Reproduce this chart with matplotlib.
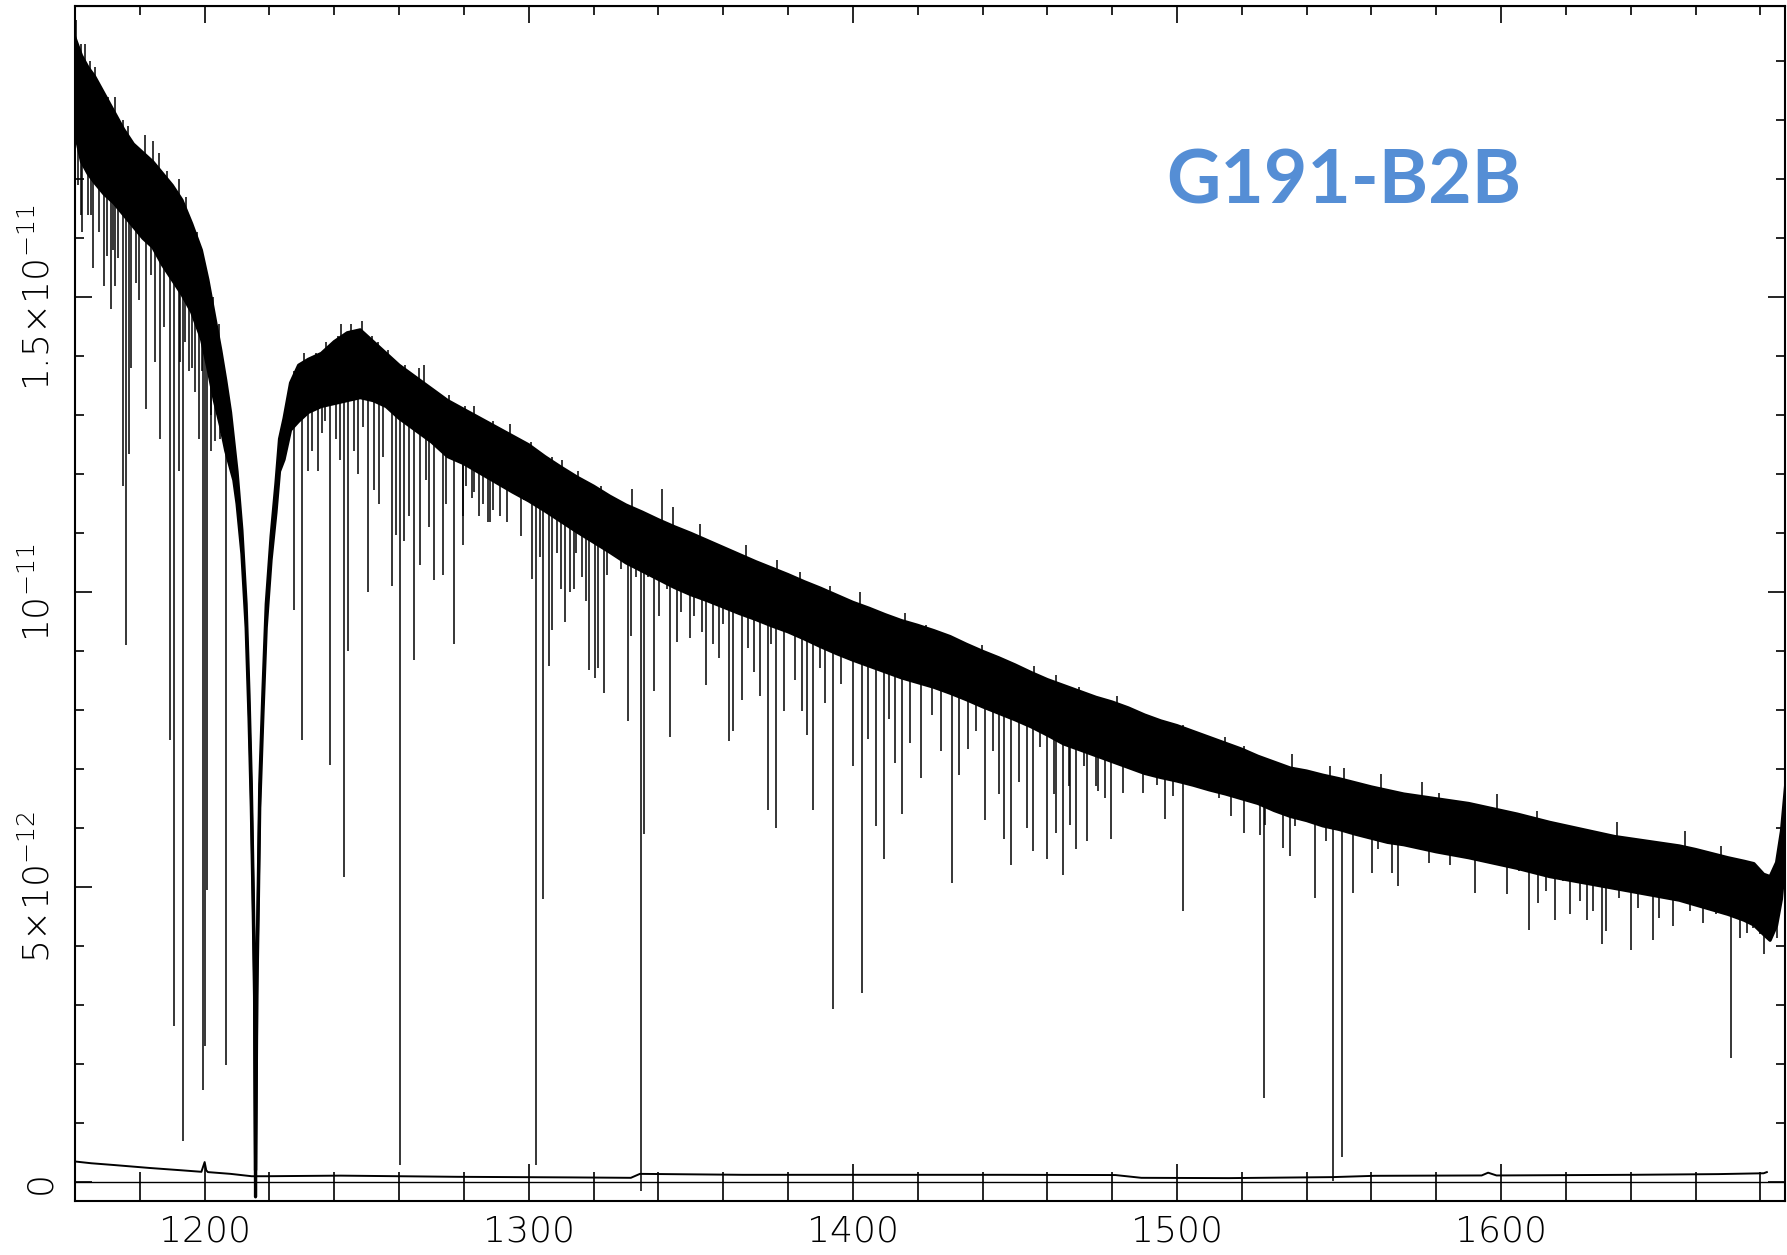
import numpy as np
import matplotlib
matplotlib.use('Agg')
import matplotlib.pyplot as plt
from matplotlib import font_manager as fm
from matplotlib.ticker import MultipleLocator

# flux in units of 1e-12, wavelength in Angstrom
# noisy continuum band: upper and lower edge
band_wave = [1160, 1162, 1164, 1166, 1169, 1172, 1175, 1178, 1181, 1184, 1187, 1190,
             1193, 1196, 1199, 1201, 1203, 1205, 1206.5, 1208, 1209, 1210, 1211.5,
             1212.8, 1213.7, 1214.4, 1215.0, 1215.4, 1215.7, 1216.1, 1216.6, 1217.0,
             1218.0, 1219.0, 1220.5, 1222.0, 1223.1, 1224.5, 1226.5, 1229, 1232, 1236,
             1240, 1244, 1248, 1252, 1256, 1260, 1265, 1270, 1275, 1280, 1285, 1290,
             1295, 1300, 1305, 1310, 1315, 1320, 1325, 1330, 1335, 1340, 1345, 1350,
             1355, 1360, 1365, 1370, 1375, 1380, 1385, 1390, 1395, 1400, 1405, 1410,
             1415, 1420, 1425, 1430, 1435, 1440, 1445, 1450, 1455, 1460, 1465, 1470,
             1475, 1480, 1485, 1490, 1495, 1500, 1505, 1510, 1515, 1520, 1525, 1530,
             1535, 1540, 1545, 1550, 1555, 1560, 1565, 1570, 1575, 1580, 1585, 1590,
             1595, 1600, 1605, 1610, 1615, 1620, 1625, 1630, 1635, 1640, 1645, 1650,
             1655, 1660, 1665, 1670, 1675, 1678, 1681, 1683, 1685, 1686.5, 1688]
band_hi = [19.4, 19.1, 18.9, 18.75, 18.45, 18.15, 17.85, 17.6, 17.45, 17.3, 17.1, 16.9,
           16.65, 16.25, 15.8, 15.3, 14.7, 14.1, 13.6, 13.05, 12.55, 12.05, 11.05,
           9.8, 8.25, 6.75, 4.95, 3.55, 0.2, 3.55, 5.25, 6.75,
           8.35, 9.8, 10.95, 11.85, 12.6, 12.95, 13.55, 13.85, 13.95, 14.05,
           14.25, 14.4, 14.45, 14.25, 14.05, 13.85, 13.65, 13.45, 13.25, 13.1, 12.95, 12.8,
           12.65, 12.5, 12.3, 12.12, 11.95, 11.8, 11.63, 11.48, 11.36, 11.23, 11.11, 11.0,
           10.88, 10.76, 10.64, 10.52, 10.41, 10.3, 10.18, 10.07, 9.95, 9.83, 9.73, 9.62,
           9.52, 9.44, 9.35, 9.25, 9.12, 9.0, 8.89, 8.77, 8.64, 8.52, 8.42, 8.32,
           8.22, 8.14, 8.04, 7.92, 7.82, 7.74, 7.64, 7.54, 7.44, 7.34, 7.22, 7.12,
           7.02, 6.97, 6.9, 6.84, 6.77, 6.7, 6.64, 6.58, 6.54, 6.5, 6.46, 6.42,
           6.36, 6.3, 6.24, 6.17, 6.1, 6.04, 5.98, 5.92, 5.86, 5.82, 5.78, 5.74,
           5.7, 5.64, 5.57, 5.5, 5.44, 5.4, 5.22, 5.18, 5.42, 5.95, 6.85]
band_lo = [17.8, 17.3, 17.1, 16.95, 16.75, 16.6, 16.4, 16.2, 16.0, 15.85, 15.55, 15.3,
           15.05, 14.75, 14.3, 13.8, 13.25, 12.8, 12.4, 12.1, 11.9, 11.5, 10.65,
           9.4, 7.85, 6.35, 4.55, 3.15, -0.25, 3.15, 4.85, 6.35,
           7.95, 9.4, 10.55, 11.35, 12.05, 12.25, 12.75, 12.9, 13.05, 13.15,
           13.2, 13.25, 13.3, 13.25, 13.15, 12.95, 12.75, 12.55, 12.3, 12.18, 12.02, 11.86,
           11.7, 11.55, 11.38, 11.2, 11.02, 10.85, 10.68, 10.5, 10.36, 10.22, 10.08, 9.96,
           9.86, 9.75, 9.64, 9.54, 9.43, 9.33, 9.21, 9.08, 8.96, 8.85, 8.75, 8.65,
           8.55, 8.47, 8.39, 8.29, 8.18, 8.06, 7.95, 7.84, 7.72, 7.58, 7.43, 7.33,
           7.23, 7.13, 7.03, 6.93, 6.86, 6.8, 6.73, 6.65, 6.58, 6.5, 6.42, 6.3,
           6.2, 6.13, 6.04, 5.98, 5.9, 5.83, 5.76, 5.72, 5.66, 5.6, 5.55, 5.5,
           5.44, 5.38, 5.32, 5.25, 5.18, 5.13, 5.08, 5.03, 4.98, 4.93, 4.88, 4.83,
           4.78, 4.7, 4.62, 4.54, 4.44, 4.36, 4.2, 4.1, 4.35, 4.8, 5.7]

# strong absorption lines: wavelength and the flux reached at line centre
line_wave = [1161.0, 1161.8, 1164.0, 1165.4, 1168.9, 1171.0, 1172.4, 1174.8, 1175.7, 1176.6,
             1177.2, 1182.0, 1186.3, 1189.2, 1190.4, 1192.1, 1193.3, 1196.2, 1198.3, 1199.6,
             1200.2, 1200.7, 1202.0, 1204.7, 1206.6, 1227.6, 1229.9, 1231.9, 1234.9, 1236.2,
             1238.8, 1241.8, 1242.9, 1244.3, 1247.3, 1250.5, 1252.1, 1253.8, 1257.7, 1260.4,
             1261.5, 1264.6, 1266.5, 1269.2, 1270.8, 1273.4, 1277.0, 1279.8, 1284.5, 1287.5,
             1291.1, 1293.4, 1297.5, 1301.1, 1302.2, 1303.4, 1304.4, 1306.2, 1307.2, 1311.1,
             1312.6, 1313.9, 1317.7, 1318.6, 1320.5, 1323.2, 1324.1, 1330.5, 1331.5, 1334.5,
             1335.7, 1338.7, 1343.5, 1345.8, 1349.7, 1354.8, 1358.6, 1361.8, 1363.1, 1365.7,
             1371.4, 1373.7, 1376.4, 1378.8, 1385.7, 1387.8, 1393.8, 1400.1, 1402.8, 1407.0,
             1409.6, 1415.2, 1420.9, 1427.1, 1430.6, 1435.4, 1440.9, 1446.6, 1448.9, 1453.7,
             1455.7, 1459.9, 1462.7, 1464.9, 1468.9, 1472.1, 1475.6, 1479.5, 1483.2, 1489.5,
             1496.3, 1498.9, 1501.8, 1506.1, 1512.9, 1516.7, 1520.6, 1524.0, 1525.7, 1526.7,
             1532.6, 1534.8, 1536.5, 1542.6, 1546.0, 1548.2, 1550.8, 1554.2, 1560.2, 1566.2,
             1568.3, 1577.8, 1584.1, 1592.0, 1601.7, 1608.7, 1611.4, 1616.5, 1621.3, 1626.4,
             1631.0, 1632.4, 1640.0, 1646.9, 1653.0, 1662.4, 1670.8, 1673.6, 1675.9, 1681.1,
             1685.0]
line_min = [16.9, 16.4, 16.4, 15.5, 15.2, 14.8, 15.2, 11.8, 9.1, 12.35,
            13.8, 13.1, 12.6, 7.5, 2.65, 12.05, 0.7, 13.8, 12.6, 1.57,
            2.3, 4.96, 12.4, 12.6, 1.98, 9.7, 7.5, 12.05, 12.05, 12.7,
            7.07, 12.25, 5.17, 9.0, 12.0, 10.0, 11.74, 11.5, 10.1, 0.29,
            10.87, 8.86, 10.46, 11.1, 10.2, 10.3, 9.12, 10.8, 11.3, 11.2,
            11.3, 11.2, 10.96, 10.23, 0.29, 10.6, 4.8, 8.75, 9.36, 9.49,
            10.0, 10.06, 9.86, 8.69, 8.55, 8.29, 10.3, 7.82, 9.26, -0.15,
            5.9, 8.32, 7.55, 9.16, 9.22, 8.42, 8.89, 7.48, 7.65, 8.18,
            8.25, 6.31, 6.01, 7.98, 7.58, 6.31, 2.94, 7.05, 3.2, 6.04,
            5.47, 6.24, 6.85, 7.31, 5.07, 7.35, 6.14, 5.81, 5.37, 6.01,
            5.61, 5.47, 5.92, 5.2, 5.64, 5.78, 6.63, 5.81, 6.6, 6.6,
            6.15, 6.54, 4.6, 6.74, 6.51, 6.2, 5.92, 6.43, 5.89, 1.43,
            5.67, 5.53, 6.03, 4.82, 5.78, 0.02, 0.43, 4.9, 5.24, 5.24,
            5.02, 5.41, 5.38, 4.9, 4.88, 4.28, 4.73, 4.45, 4.54, 4.45,
            4.03, 4.25, 3.94, 4.11, 4.34, 4.4, 2.1, 4.14, 4.23, 3.86,
            4.14]

# weak lines hanging just under the band
weak_wave = [1162.2, 1164.9, 1167.3, 1169.9, 1171.6, 1173.4, 1178.7, 1179.9, 1183.4, 1184.6,
             1187.5, 1192.3, 1194.0, 1195.2, 1197.0, 1199.3, 1202.0, 1203.2, 1205.2,
             1233.1, 1237.0, 1240.6, 1246.2, 1248.8, 1255.0, 1259.1, 1263.2, 1268.3, 1274.5,
             1279.7, 1283.2, 1285.8, 1287.9, 1280.6, 1282.5, 1288.9, 1298.5, 1308.8, 1310.0,
             1314.5, 1316.4, 1321.5, 1326.0, 1328.6, 1333.0, 1336.9, 1340.1, 1342.6, 1347.1,
             1351.0, 1353.5, 1356.7, 1359.9, 1367.6, 1369.5, 1374.6, 1382.3, 1384.2, 1390.0,
             1391.3, 1396.4, 1404.7, 1411.1, 1413.0, 1417.5, 1424.5, 1432.8, 1437.9, 1443.1,
             1445.0, 1451.4, 1457.8, 1462.2, 1466.7, 1471.2, 1475.0, 1467.0, 1477.9, 1485.8,
             1493.8, 1508.3, 1527.1, 1538.7, 1553.2, 1556.1, 1561.9, 1572.0, 1576.4, 1580.7,
             1588.0, 1596.0, 1605.4, 1614.0, 1619.1, 1624.2, 1628.5, 1636.5, 1642.3, 1648.8,
             1658.2, 1666.2, 1677.8, 1680.0]
weak_min = [16.1, 16.4, 16.1, 15.7, 15.8, 15.66, 15.24, 14.96, 15.38, 13.9,
            14.5, 13.9, 14.25, 13.76, 13.4, 13.76, 13.0, 12.56, 12.7,
            12.4, 12.9, 12.6, 12.4, 12.8, 12.3, 10.97, 11.3, 11.9, 11.5,
            11.3, 11.7, 11.5, 11.2, 11.8, 11.6, 11.4, 11.57, 10.66, 10.06,
            10.66, 10.26, 8.72, 10.93, 10.4, 10.26, 10.26, 9.59, 10.06, 9.66,
            9.59, 9.32, 9.12, 9.46, 9.06, 8.65, 9.12, 8.52, 7.98, 8.72,
            8.12, 8.45, 7.52, 7.85, 7.11, 7.45, 7.92, 6.91, 7.65, 7.31,
            6.58, 6.78, 7.38, 6.58, 6.71, 7.05, 6.71, 6.06, 6.51, 7.08,
            6.74, 6.97, 6.06, 6.23, 6.0, 6.12, 5.64, 5.81, 5.84, 5.61,
            5.84, 5.67, 5.27, 4.94, 5.1, 4.76, 4.59, 4.82, 4.65, 4.48,
            4.59, 4.54, 4.31, 4.2]

# noise spikes rising above the band
spike_wave = [1160.4, 1162.0, 1163.1, 1164.7, 1166.1, 1168.4, 1170.2, 1172.4, 1174.8, 1176.3,
              1181.6, 1184.0, 1185.9, 1188.4, 1192.0, 1194.3, 1197.6, 1200.8, 1202.6, 1204.4,
              1227.7, 1230.8, 1234.5, 1237.3, 1241.2, 1242.2, 1245.1, 1248.7, 1251.6, 1253.6,
              1256.6, 1261.9, 1266.0, 1267.8, 1275.4, 1280.2, 1283.1, 1289.0, 1294.3, 1300.8,
              1307.3, 1310.2, 1315.1, 1322.2, 1331.8, 1341.0, 1344.6, 1352.9, 1367.0, 1376.5,
              1383.6, 1392.9, 1402.1, 1416.2, 1422.6, 1430.3, 1439.9, 1455.8, 1462.7, 1469.9,
              1481.5, 1501.8, 1514.8, 1520.6, 1535.5, 1547.1, 1551.5, 1563.1, 1575.7, 1580.7,
              1598.8, 1611.2, 1635.8, 1656.8, 1667.7]
spike_top = [19.7, 19.3, 19.3, 19.0, 18.9, 18.5, 18.4, 18.4, 18.0, 17.9,
             17.75, 17.65, 17.45, 17.15, 17.0, 16.7, 16.1, 15.4, 15.0, 14.55,
             13.75, 14.05, 14.05, 14.25, 14.35, 14.55, 14.55, 14.6, 14.35, 14.25,
             14.1, 13.85, 13.8, 13.85, 13.35, 13.15, 13.15, 12.9, 12.85, 12.55,
             12.3, 12.25, 12.05, 11.8, 11.75, 11.75, 11.45, 11.15, 10.8, 10.55,
             10.35, 10.1, 10.0, 9.65, 9.45, 9.15, 9.1, 8.75, 8.6, 8.4,
             8.25, 7.75, 7.55, 7.4, 7.25, 7.05, 7.02, 6.92, 6.78, 6.6,
             6.58, 6.3, 6.1, 5.95, 5.7]

# error spectrum
err_wave = [1160, 1165, 1172, 1183, 1193, 1199, 1200, 1200.5, 1201, 1208, 1214.5, 1219,
            1242, 1278, 1313, 1331.5, 1334.3, 1366, 1410, 1446, 1481, 1489, 1516, 1548,
            1561, 1594, 1596, 1598.6, 1640, 1667, 1681, 1682]
err_flux = [0.35, 0.32, 0.29, 0.24, 0.2, 0.175, 0.34, 0.2, 0.17, 0.14, 0.1, 0.1,
            0.11, 0.09, 0.08, 0.073, 0.14, 0.124, 0.124, 0.124, 0.12, 0.073, 0.068, 0.085,
            0.107, 0.113, 0.16, 0.113, 0.124, 0.136, 0.15, 0.17]

xticks = [1200, 1300, 1400, 1500, 1600]
yticks = [0, 5, 10, 15]
ytick_labels = ['0', r'$5{\times}10^{-12}$', r'$10^{-11}$', r'$1.5{\times}10^{-11}$']
star = 'G191-B2B'


def thin_family():
    for fam in ['DejaVu Sans', 'Roboto', 'Lato', 'Open Sans', 'Inter', 'Noto Sans']:
        for f in fm.fontManager.ttflist:
            w = f.weight
            if isinstance(w, str):
                w = fm.weight_dict.get(w, 400)
            if f.name == fam and w <= 300 and f.stretch == 'normal':
                return fam
    return 'DejaVu Sans'


thin = thin_family()
label_size = 26 if thin == 'DejaVu Sans' else 29
plt.rcParams['font.family'] = [thin, 'DejaVu Sans']
plt.rcParams['font.weight'] = 'light'
plt.rcParams['mathtext.fontset'] = 'custom'
plt.rcParams['mathtext.rm'] = thin + ':light'
plt.rcParams['mathtext.it'] = thin + ':light'

fig = plt.figure(figsize=(17.87, 12.55), dpi=100)
ax = fig.add_axes([75 / 1787, 1 - 1201 / 1255, 1710 / 1787, 1195 / 1255])

lw = 1.1
ax.fill_between(band_wave, band_lo, band_hi, color='black', lw=0)
ax.plot(band_wave, band_hi, color='black', lw=2.3)
ax.plot(band_wave, band_lo, color='black', lw=2.3)

ax.vlines(line_wave, line_min, np.interp(line_wave, band_wave, band_hi), color='black', lw=lw)
ax.vlines(weak_wave, weak_min, np.interp(weak_wave, band_wave, band_hi), color='black', lw=lw)
ax.vlines(spike_wave, np.interp(spike_wave, band_wave, band_lo), spike_top, color='black', lw=lw)

ax.plot(err_wave, err_flux, color='black', lw=1.4)
ax.axhline(0, color='black', lw=1.0)

ax.set_xlim(1160, 1687.6)
ax.set_ylim(-0.32, 19.94)

ax.set_xticks(xticks)
ax.xaxis.set_minor_locator(MultipleLocator(20))
ax.set_yticks(yticks, ytick_labels, rotation=90, va='center')
ax.yaxis.set_minor_locator(MultipleLocator(1))

ax.tick_params(axis='x', which='major', direction='in', length=27, width=1.2,
               labelsize=label_size, pad=10, top=False)
ax.tick_params(axis='x', which='minor', direction='in', length=21, width=1.2, top=False)
ax.tick_params(axis='y', which='major', direction='in', length=12, width=1.2,
               labelsize=label_size, pad=13, right=True)
ax.tick_params(axis='y', which='minor', direction='in', length=6.5, width=1.2, right=True)

top = ax.secondary_xaxis('top')
top.set_xticks(xticks)
top.xaxis.set_minor_locator(MultipleLocator(20))
top.tick_params(which='major', direction='in', length=12, width=1.2, labeltop=False)
top.tick_params(which='minor', direction='in', length=6.5, width=1.2)

for sp in ax.spines.values():
    sp.set_linewidth(1.5)

fig.text(1166 / 1787, 1 - 203 / 1255, star, fontsize=54, fontweight='bold',
         color='#558ED5', family=['Lato', 'DejaVu Sans'], ha='left', va='baseline')

fig.savefig('out.png', dpi=100)
